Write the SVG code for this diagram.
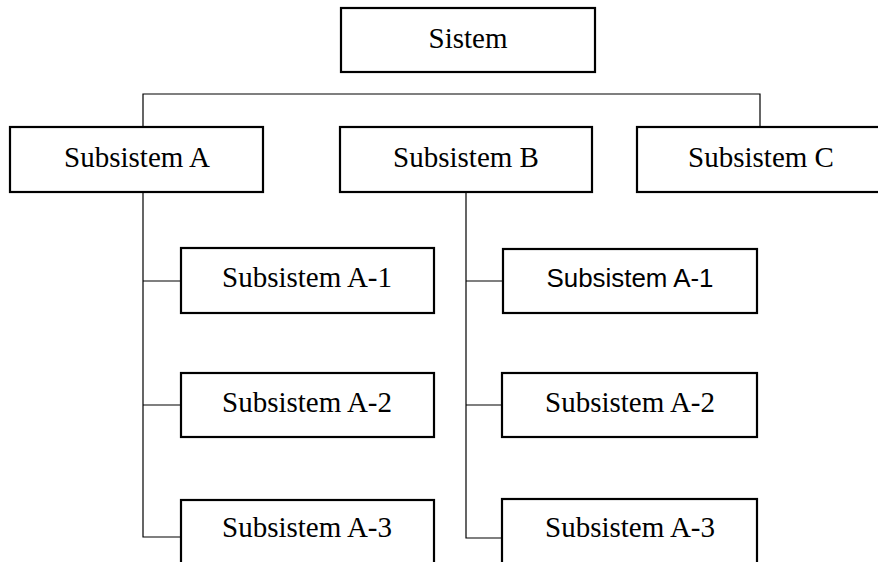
<svg xmlns="http://www.w3.org/2000/svg" width="878" height="562" viewBox="0 0 878 562">
<style>
.box{fill:#fff;stroke:#000;stroke-width:2.2}
.t{font-family:"Liberation Serif","Times New Roman",serif;font-size:29px;fill:#000;text-anchor:middle}
.s{font-family:"Liberation Sans",Arial,sans-serif;font-size:26px;fill:#000;text-anchor:middle}
.c{fill:none;stroke:#000;stroke-width:1.2}
</style>
<rect width="878" height="562" fill="#fff"/>
<g id="connectors">
<path class="c" d="M143,126 V94 H760 V126"/>
<path class="c" d="M143,192 V537 H181 M143,281 H181 M143,405 H181"/>
<path class="c" d="M466,192 V538 H502 M466,281 H502 M466,405 H502"/>
</g>
<g id="sistem"><rect class="box" x="341" y="8" width="254" height="64"/><text class="t" x="468" y="48">Sistem</text></g>
<g id="subA"><rect class="box" x="10" y="127" width="253" height="65"/><text class="t" x="137" y="167">Subsistem A</text></g>
<g id="subB"><rect class="box" x="340" y="127" width="252" height="65"/><text class="t" x="466" y="167">Subsistem B</text></g>
<g id="subC"><rect class="box" x="637" y="127" width="250" height="65"/><text class="t" x="761" y="167">Subsistem C</text></g>
<g id="a1"><rect class="box" x="181" y="248" width="253" height="65"/><text class="t" x="307" y="287">Subsistem A-1</text></g>
<g id="a2"><rect class="box" x="181" y="373" width="253" height="64"/><text class="t" x="307" y="412">Subsistem A-2</text></g>
<g id="a3"><rect class="box" x="181" y="500" width="253" height="66"/><text class="t" x="307" y="537">Subsistem A-3</text></g>
<g id="b1"><rect class="box" x="503" y="249" width="254" height="64"/><text class="s" x="630" y="287" textLength="167" lengthAdjust="spacingAndGlyphs">Subsistem A-1</text></g>
<g id="b2"><rect class="box" x="502" y="373" width="255" height="64"/><text class="t" x="630" y="412">Subsistem A-2</text></g>
<g id="b3"><rect class="box" x="502" y="499" width="255" height="67"/><text class="t" x="630" y="537">Subsistem A-3</text></g>
</svg>
